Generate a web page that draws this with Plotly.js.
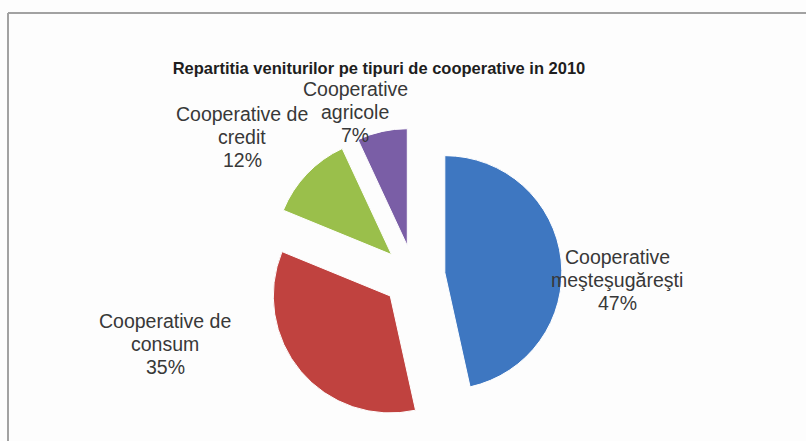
<!DOCTYPE html>
<html>
<head>
<meta charset="utf-8">
<script src="https://cdn.plot.ly/plotly-3.0.1.min.js"></script>
<style>
  html, body { margin: 0; padding: 0; background: #fdfdfd; }
  #chart { width: 806px; height: 441px; }
</style>
</head>
<body>
<div id="chart"></div>
<script>
// ---- data ----
var categories = ["Cooperative meşteşugăreşti", "Cooperative de consum", "Cooperative de credit", "Cooperative agricole"];
var labelLines = [["Cooperative", "meşteşugăreşti"], ["Cooperative de", "consum"], ["Cooperative de", "credit"], ["Cooperative", "agricole"]];
var values = [47, 35, 12, 7];
var chartTitle = "Repartitia veniturilor pe tipuri de cooperative in 2010";

// ---- styles ----
var colors = ["#3E77C1", "#C0423F", "#9ABF4B", "#7A5EA6"];
var W = 806, H = 441;
var labelPos = [[617, 257], [165, 321], [242, 114], [355, 89]]; // centre of first line
var LINE = 23;
var FONT = "Liberation Sans, Arial, sans-serif";

var annotations = [];
categories.forEach(function (c, i) {
  var lines = labelLines[i].concat([values[i] + "%"]);
  lines.forEach(function (t, k) {
    annotations.push({
      xref: "paper", yref: "paper",
      x: labelPos[i][0] / W, y: 1 - (labelPos[i][1] + k * LINE) / H,
      xanchor: "center", yanchor: "middle",
      text: t,
      showarrow: false,
      font: { family: FONT, size: 19.5, color: "#383838" }
    });
  });
});

var cx = 414, cy = 276, half = 148;
var trace = {
  type: "pie",
  labels: categories,
  values: values,
  sort: false,
  direction: "clockwise",
  rotation: 0,
  pull: [0.265, 0.265, 0.265, 0.265],
  marker: { colors: colors, line: { color: "#ffffff", width: 1 } },
  textinfo: "none",
  hoverinfo: "label+percent",
  showlegend: false,
  domain: {
    x: [(cx - half) / W, (cx + half) / W],
    y: [1 - (cy + half) / H, 1 - (cy - half) / H]
  }
};

var layout = {
  width: W, height: H,
  margin: { l: 0, r: 0, t: 0, b: 0 },
  paper_bgcolor: "#fdfdfd",
  plot_bgcolor: "#fdfdfd",
  showlegend: false,
  title: {
    text: chartTitle,
    x: 379 / W, xanchor: "center", xref: "paper",
    y: 1 - 68 / H, yanchor: "middle", yref: "paper",
    font: { family: FONT, size: 16.5, color: "#1e1e1e", weight: "bold" }
  },
  annotations: annotations,
  shapes: [
    { type: "line", xref: "paper", yref: "paper", x0: 8 / W, x1: 1.02, y0: 1 - 13 / H, y1: 1 - 13 / H,
      line: { color: "#a2a2a2", width: 2 } },
    { type: "line", xref: "paper", yref: "paper", x0: 8 / W, x1: 8 / W, y0: 1 - 13 / H, y1: -0.02,
      line: { color: "#a2a2a2", width: 2 } }
  ]
};

Plotly.newPlot("chart", [trace], layout, { displayModeBar: false, staticPlot: true });
</script>
</body>
</html>
